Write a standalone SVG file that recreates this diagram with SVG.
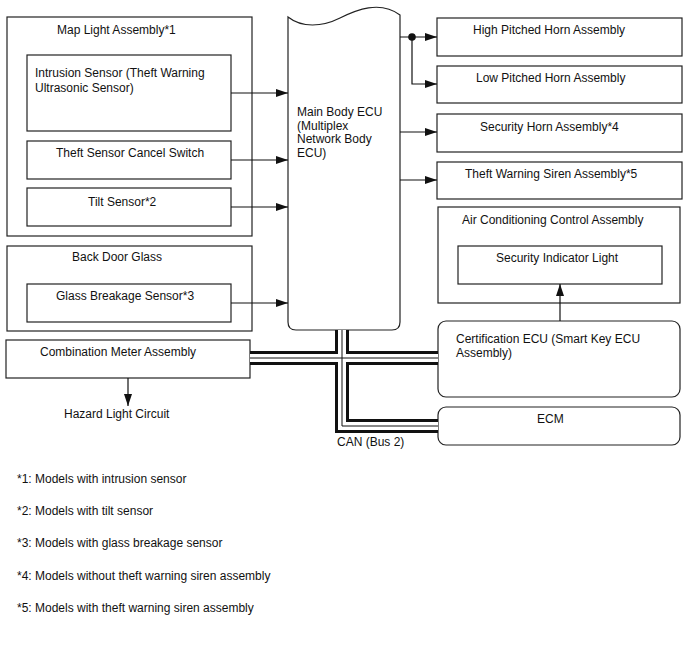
<svg xmlns="http://www.w3.org/2000/svg" width="688" height="658" viewBox="0 0 688 658">
<style>
text{font-family:"Liberation Sans",Arial,sans-serif;font-size:12px;fill:#111}
.b{fill:#fff;stroke:#222;stroke-width:1.2}
.ln{fill:none;stroke:#111;stroke-width:1.2}
.busB{fill:none;stroke:#111;stroke-width:14;stroke-linejoin:miter}
.busW{fill:none;stroke:#fff;stroke-width:8;stroke-linejoin:miter}
.busC{fill:none;stroke:#111;stroke-width:1}
</style>
<defs>
<marker id="ah" markerUnits="userSpaceOnUse" markerWidth="12" markerHeight="8" refX="12" refY="4" orient="auto">
<path d="M0,0 L12,4 L0,8 z" fill="#111"/>
</marker>
</defs>
<rect width="688" height="658" fill="#fff"/>

<g id="map-light">
<rect class="b" x="7" y="17" width="245" height="219"/>
<text x="57" y="34">Map Light Assembly*1</text>
</g>
<g id="intrusion-sensor">
<rect class="b" x="27" y="55" width="204" height="76"/>
<text x="35" y="77">Intrusion Sensor (Theft Warning</text>
<text x="35" y="92">Ultrasonic Sensor)</text>
</g>
<g id="cancel-switch">
<rect class="b" x="27" y="141" width="204" height="38"/>
<text x="56" y="157">Theft Sensor Cancel Switch</text>
</g>
<g id="tilt-sensor">
<rect class="b" x="27" y="188" width="204" height="38"/>
<text x="88" y="206">Tilt Sensor*2</text>
</g>
<g id="back-door-glass">
<rect class="b" x="7" y="246" width="245" height="85"/>
<text x="72" y="261">Back Door Glass</text>
</g>
<g id="glass-breakage">
<rect class="b" x="27" y="284" width="204" height="38"/>
<text x="56" y="300">Glass Breakage Sensor*3</text>
</g>
<g id="combination-meter">
<rect class="b" x="6" y="340" width="244" height="38"/>
<text x="40" y="356">Combination Meter Assembly</text>
</g>
<g id="hazard">
<text x="64" y="418">Hazard Light Circuit</text>
</g>

<g id="main-body-ecu">
<path class="b" d="M288,17 C302,28 322,27 340,18 C356,10 380,0 400,15 L400,322 Q400,330 392,330 L296,330 Q288,330 288,322 Z"/>
<text x="297" y="116">Main Body ECU</text>
<text x="297" y="130">(Multiplex</text>
<text x="297" y="143">Network Body</text>
<text x="297" y="157">ECU)</text>
</g>

<g id="high-horn">
<rect class="b" x="437" y="18" width="245" height="38"/>
<text x="473" y="34">High Pitched Horn Assembly</text>
</g>
<g id="low-horn">
<rect class="b" x="437" y="66" width="245" height="37"/>
<text x="476" y="82">Low Pitched Horn Assembly</text>
</g>
<g id="security-horn">
<rect class="b" x="437" y="114" width="245" height="38"/>
<text x="480" y="131">Security Horn Assembly*4</text>
</g>
<g id="siren">
<rect class="b" x="437" y="162" width="245" height="37"/>
<text x="465" y="178">Theft Warning Siren Assembly*5</text>
</g>
<g id="ac-control">
<rect class="b" x="438" y="207" width="242" height="96"/>
<text x="462" y="224">Air Conditioning Control Assembly</text>
</g>
<g id="security-indicator">
<rect class="b" x="458" y="246" width="204" height="38"/>
<text x="496" y="262">Security Indicator Light</text>
</g>
<g id="certification-ecu">
<rect class="b" x="438" y="321" width="242" height="76" rx="8"/>
<text x="456" y="343">Certification ECU (Smart Key ECU</text>
<text x="456" y="357">Assembly)</text>
</g>
<g id="ecm">
<rect class="b" x="438" y="407" width="242" height="38" rx="8"/>
<text x="537" y="423">ECM</text>
</g>

<g id="connectors">
<line class="ln" x1="231" y1="93" x2="288" y2="93" marker-end="url(#ah)"/>
<line class="ln" x1="231" y1="160" x2="288" y2="160" marker-end="url(#ah)"/>
<line class="ln" x1="231" y1="207" x2="288" y2="207" marker-end="url(#ah)"/>
<line class="ln" x1="231" y1="303" x2="288" y2="303" marker-end="url(#ah)"/>
<line class="ln" x1="400" y1="37" x2="437" y2="37" marker-end="url(#ah)"/>
<polyline class="ln" points="412,37 412,84 437,84" marker-end="url(#ah)"/>
<circle cx="412" cy="37" r="3.8" fill="#111"/>
<line class="ln" x1="400" y1="132" x2="437" y2="132" marker-end="url(#ah)"/>
<line class="ln" x1="400" y1="180" x2="437" y2="180" marker-end="url(#ah)"/>
<line class="ln" x1="560" y1="321" x2="560" y2="284" marker-end="url(#ah)"/>
<line class="ln" x1="128" y1="378" x2="128" y2="406" marker-end="url(#ah)"/>
<g id="can-bus">
<path class="busB" d="M250,358 L438,358"/>
<path class="busB" d="M342,330 L342,426 L438,426"/>
<path class="busW" d="M250,358 L438,358"/>
<path class="busW" d="M342,330 L342,426 L438,426"/>
<path class="busC" d="M250,358 L438,358"/>
<path class="busC" d="M342,330 L342,426 L438,426"/>
</g>
<text x="337" y="446">CAN (Bus 2)</text>
</g>

<g id="notes">
<text x="17" y="483">*1: Models with intrusion sensor</text>
<text x="17" y="515">*2: Models with tilt sensor</text>
<text x="17" y="547">*3: Models with glass breakage sensor</text>
<text x="17" y="580">*4: Models without theft warning siren assembly</text>
<text x="17" y="612">*5: Models with theft warning siren assembly</text>
</g>
</svg>
